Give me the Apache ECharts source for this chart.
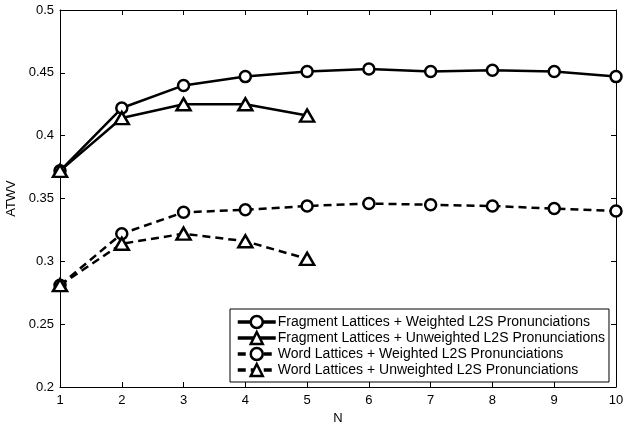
<!DOCTYPE html>
<html><head><meta charset="utf-8">
<script src="https://cdn.jsdelivr.net/npm/echarts@6/dist/echarts.min.js"></script>
<style>html,body{margin:0;padding:0;background:#fff}#c{width:624px;height:425px}</style>
</head><body><div id="c"></div>
<script>
const N = [1,2,3,4,5,6,7,8,9,10];
const fragWeighted = [0.372,0.422,0.440,0.447,0.451,0.453,0.451,0.452,0.451,0.447];
const fragUnweighted = [0.372,0.414,0.425,0.425,0.416];
const wordWeighted = [0.281,0.322,0.339,0.341,0.344,0.346,0.345,0.344,0.342,0.340];
const wordUnweighted = [0.281,0.314,0.322,0.316,0.302];
const names = [
  'Fragment Lattices + Weighted L2S Pronunciations',
  'Fragment Lattices + Unweighted L2S Pronunciations',
  'Word Lattices + Weighted L2S Pronunciations',
  'Word Lattices + Unweighted L2S Pronunciations'
];
const yTicks = [0.2,0.25,0.3,0.35,0.4,0.45,0.5];
const font = 'Liberation Sans, Arial, Helvetica, sans-serif';
function pairs(vals){ return vals.map((v,i)=>[N[i], v]); }
function mk(name, vals, dashed, sym){
  return {
    name, type:'line', data: pairs(vals),
    symbol: sym, symbolSize: sym==='circle' ? 11 : [14,12],
    showSymbol:true,
    lineStyle:{color:'#000', width:2.5, type: dashed ? [8,5] : 'solid'},
    itemStyle:{color:'#fff', borderColor:'#000', borderWidth:2.5},
    emphasis:{disabled:true}, z: 3
  };
}
const chart = echarts.init(document.getElementById('c'));
const axisCommon = {
  axisLine:{show:true, lineStyle:{color:'#000', width:1}},
  axisTick:{show:true, inside:true, length:5, lineStyle:{color:'#000'}},
  splitLine:{show:false}
};
chart.setOption({
  animation:false,
  backgroundColor:'#fff',
  grid:{left:60, right:8, top:10, bottom:38, containLabel:false, outerBoundsMode:'none'},
  xAxis:[
    Object.assign({type:'value', min:1, max:10, interval:1, position:'bottom',
      name:'N', nameLocation:'middle', nameGap:11,
      nameTextStyle:{fontFamily:font, fontSize:13, color:'#000'},
      axisLabel:{fontFamily:font, fontSize:13, color:'#000', margin:7}}, axisCommon),
    Object.assign({type:'value', min:1, max:10, interval:1, position:'top', axisLabel:{show:false}}, axisCommon)
  ],
  yAxis:[
    Object.assign({type:'value', min:0.2, max:0.5, interval:0.05, position:'left',
      name:'ATWV', nameLocation:'middle', nameGap:36, nameRotate:90,
      nameTextStyle:{fontFamily:font, fontSize:13, color:'#000'},
      axisLabel:{fontFamily:font, fontSize:13, color:'#000', margin:6,
        formatter: v => { const t = yTicks.find(x=>Math.abs(x-v)<1e-9); return t===undefined? '' : String(t); }}}, axisCommon),
    Object.assign({type:'value', min:0.2, max:0.5, interval:0.05, position:'right', axisLabel:{show:false}}, axisCommon)
  ],
  legend:{
    orient:'vertical', left:230, top:309,
    backgroundColor:'#fff', borderColor:'#000', borderWidth:1,
    padding:[5,4,4,6], itemGap:0, itemWidth:38, itemHeight:15,
    lineStyle:{width:3.5},
    itemStyle:{borderWidth:2.5},
    textStyle:{fontFamily:font, fontSize:14, lineHeight:16, color:'#000', padding:[0,0,0,-3]},
    data: names
  },
  series:[
    mk(names[0], fragWeighted, false, 'circle'),
    mk(names[1], fragUnweighted, false, 'triangle'),
    mk(names[2], wordWeighted, true, 'circle'),
    mk(names[3], wordUnweighted, true, 'triangle')
  ]
});
</script></body></html>
